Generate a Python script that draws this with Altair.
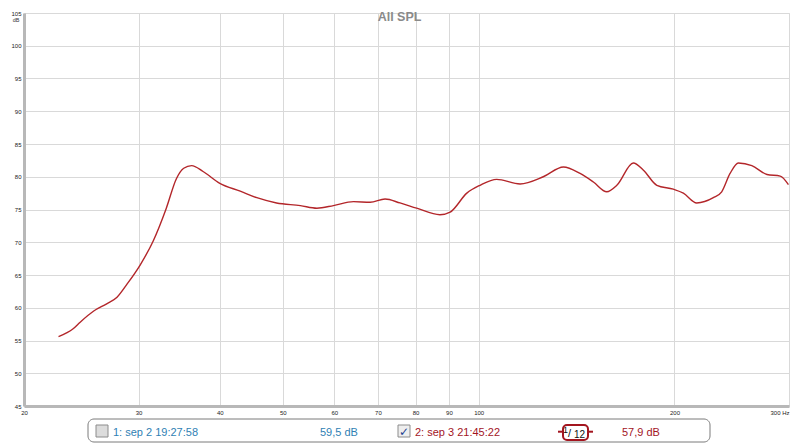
import altair as alt
import pandas as pd

# Frequency response (Hz, dB SPL)
freq = [22.6, 23.8, 24.4, 25.6, 26.8, 27.8, 28.8, 30.2, 31.6, 33.1, 34.3, 35.2, 36.2,
        37.7, 40.0, 43.0, 45.6, 48.9, 53.2, 56.4, 59.8, 64.2, 68.1, 71.8, 75.7, 80.3,
        87.2, 90.4, 95.9, 100.5, 106.6, 115.8, 125.7, 135.0, 143.2, 150.1, 157.4,
        163.1, 172.9, 179.2, 187.9, 199.2, 206.4, 216.4, 229.5, 236.4, 243.5, 250.8,
        263.0, 277.5, 290.8, 299.4]
spl = [55.6, 56.8, 57.8, 59.5, 60.6, 61.6, 63.6, 66.6, 70.2, 75.2, 79.7, 81.3, 81.7,
       80.8, 79.0, 77.8, 76.8, 76.0, 75.6, 75.2, 75.6, 76.2, 76.1, 76.6, 76.0, 75.2,
       74.2, 74.6, 77.5, 78.7, 79.6, 78.9, 80.0, 81.5, 80.5, 79.2, 77.7,
       78.7, 82.1, 81.0, 78.7, 78.1, 77.5, 76.0, 76.8, 77.7, 80.5, 82.1,
       81.7, 80.35, 80.1, 78.8]

x_ticks = [20, 30, 40, 50, 60, 70, 80, 90, 100, 200, 300]
y_ticks = [45, 50, 55, 60, 65, 70, 75, 80, 85, 90, 95, 100, 105]

title_text = "All SPL"
y_unit = "dB"
leg1_name = "1: sep 2 19:27:58"
leg1_value = "59,5 dB"
leg2_name = "2: sep 3 21:45:22"
leg2_value = "57,9 dB"

BLUE = "#2f7fb4"
RED = "#a3151f"
LINE = "#b3262a"
FONT = "Liberation Sans"

df = pd.DataFrame({"f": freq, "spl": spl})
one = pd.DataFrame({"k": [0]})

W, H = 765, 393

line = alt.Chart(df).mark_line(color=LINE, strokeWidth=1.4, interpolate="monotone").encode(
    x=alt.X("f:Q",
            scale=alt.Scale(type="log", domain=[20, 300], nice=False),
            axis=alt.Axis(values=x_ticks, title=None, grid=True, ticks=False,
                          labelExpr="datum.value == 300 ? '300 Hz' : format(datum.value, 'd')",
                          labelAlign={"condition": {"test": "datum.value == 300", "value": "right"},
                                      "value": "center"},
                          labelOverlap=False, labelFlush=False, labelPadding=3,
                          labelFontSize=6, labelColor="#222", labelFont=FONT,
                          gridColor="#d9d9d9", domainColor="#b8b8b8", domainWidth=3)),
    y=alt.Y("spl:Q",
            scale=alt.Scale(domain=[45, 105], nice=False, zero=False),
            axis=alt.Axis(values=y_ticks, title=None, grid=True, ticks=False,
                          labelPadding=3, labelFontSize=6, labelColor="#222",
                          labelFont=FONT, labelOverlap=False, labelFlush=False,
                          gridColor="#d9d9d9", domainColor="#b8b8b8", domainWidth=3)),
)

def txt(t, x, y, size, color, align="left", weight="normal", baseline="alphabetic", font=FONT):
    return alt.Chart(one).mark_text(text=t, align=align, baseline=baseline, fontSize=size,
                                    color=color, fontWeight=weight, font=font).encode(
        x=alt.value(x), y=alt.value(y))

title = txt(title_text, 375.5, 7.7, 12.5, "#8a8a8a", align="center", weight="bold")
unit = txt(y_unit, -8, 8.5, 5.5, "#333", align="center")

box = alt.Chart(one).mark_rect(fill="white", stroke="#7a7a7a", strokeWidth=1,
                               cornerRadius=6).encode(
    x=alt.value(64), x2=alt.value(686), y=alt.value(406), y2=alt.value(429))

cb1 = alt.Chart(one).mark_rect(fill="#dcdcdc", stroke="#8c8c8c", strokeWidth=1).encode(
    x=alt.value(72), x2=alt.value(84), y=alt.value(412), y2=alt.value(424))
cb2 = alt.Chart(one).mark_rect(fill="#eeeeee", stroke="#8c8c8c", strokeWidth=1).encode(
    x=alt.value(374), x2=alt.value(386), y=alt.value(412), y2=alt.value(424))
check = txt("✓", 380, 423, 12, "#1f3f8f", align="center", weight="bold", font="DejaVu Sans")

t1 = txt(leg1_name, 89, 422.5, 11, BLUE)
v1 = txt(leg1_value, 296, 422.5, 11, BLUE)
t2 = txt(leg2_name, 391, 422.5, 11, RED)
v2 = txt(leg2_value, 598, 422.5, 11, RED)

sm_l = alt.Chart(one).mark_rule(color=RED, strokeWidth=2).encode(
    x=alt.value(534), x2=alt.value(539), y=alt.value(418.7))
sm_r = alt.Chart(one).mark_rule(color=RED, strokeWidth=2).encode(
    x=alt.value(564), x2=alt.value(569), y=alt.value(418.7))
sm_box = alt.Chart(one).mark_rect(fill="white", stroke=RED, strokeWidth=2,
                                  cornerRadius=4).encode(
    x=alt.value(539), x2=alt.value(564), y=alt.value(412), y2=alt.value(427))
sm1 = txt("1", 541.5, 420, 9, "#111", align="center")
sm2 = txt("/", 545.5, 423.5, 11, "#111", align="center")
sm3 = txt("12", 555.5, 425.3, 10, "#111", align="center")

chart = alt.layer(
    line, title, unit, box, cb1, cb2, check, t1, v1, t2, v2,
    sm_l, sm_r, sm_box, sm1, sm2, sm3
).properties(
    width=W, height=H,
    autosize=alt.AutoSizeParams(type="none"),
    padding={"left": 16, "top": 5, "right": 3, "bottom": 37},
).configure_view(
    stroke="#c4c4c4", strokeWidth=2
).configure(background="white")

chart.save("out.html", embed_options={"renderer": "svg", "actions": False})
